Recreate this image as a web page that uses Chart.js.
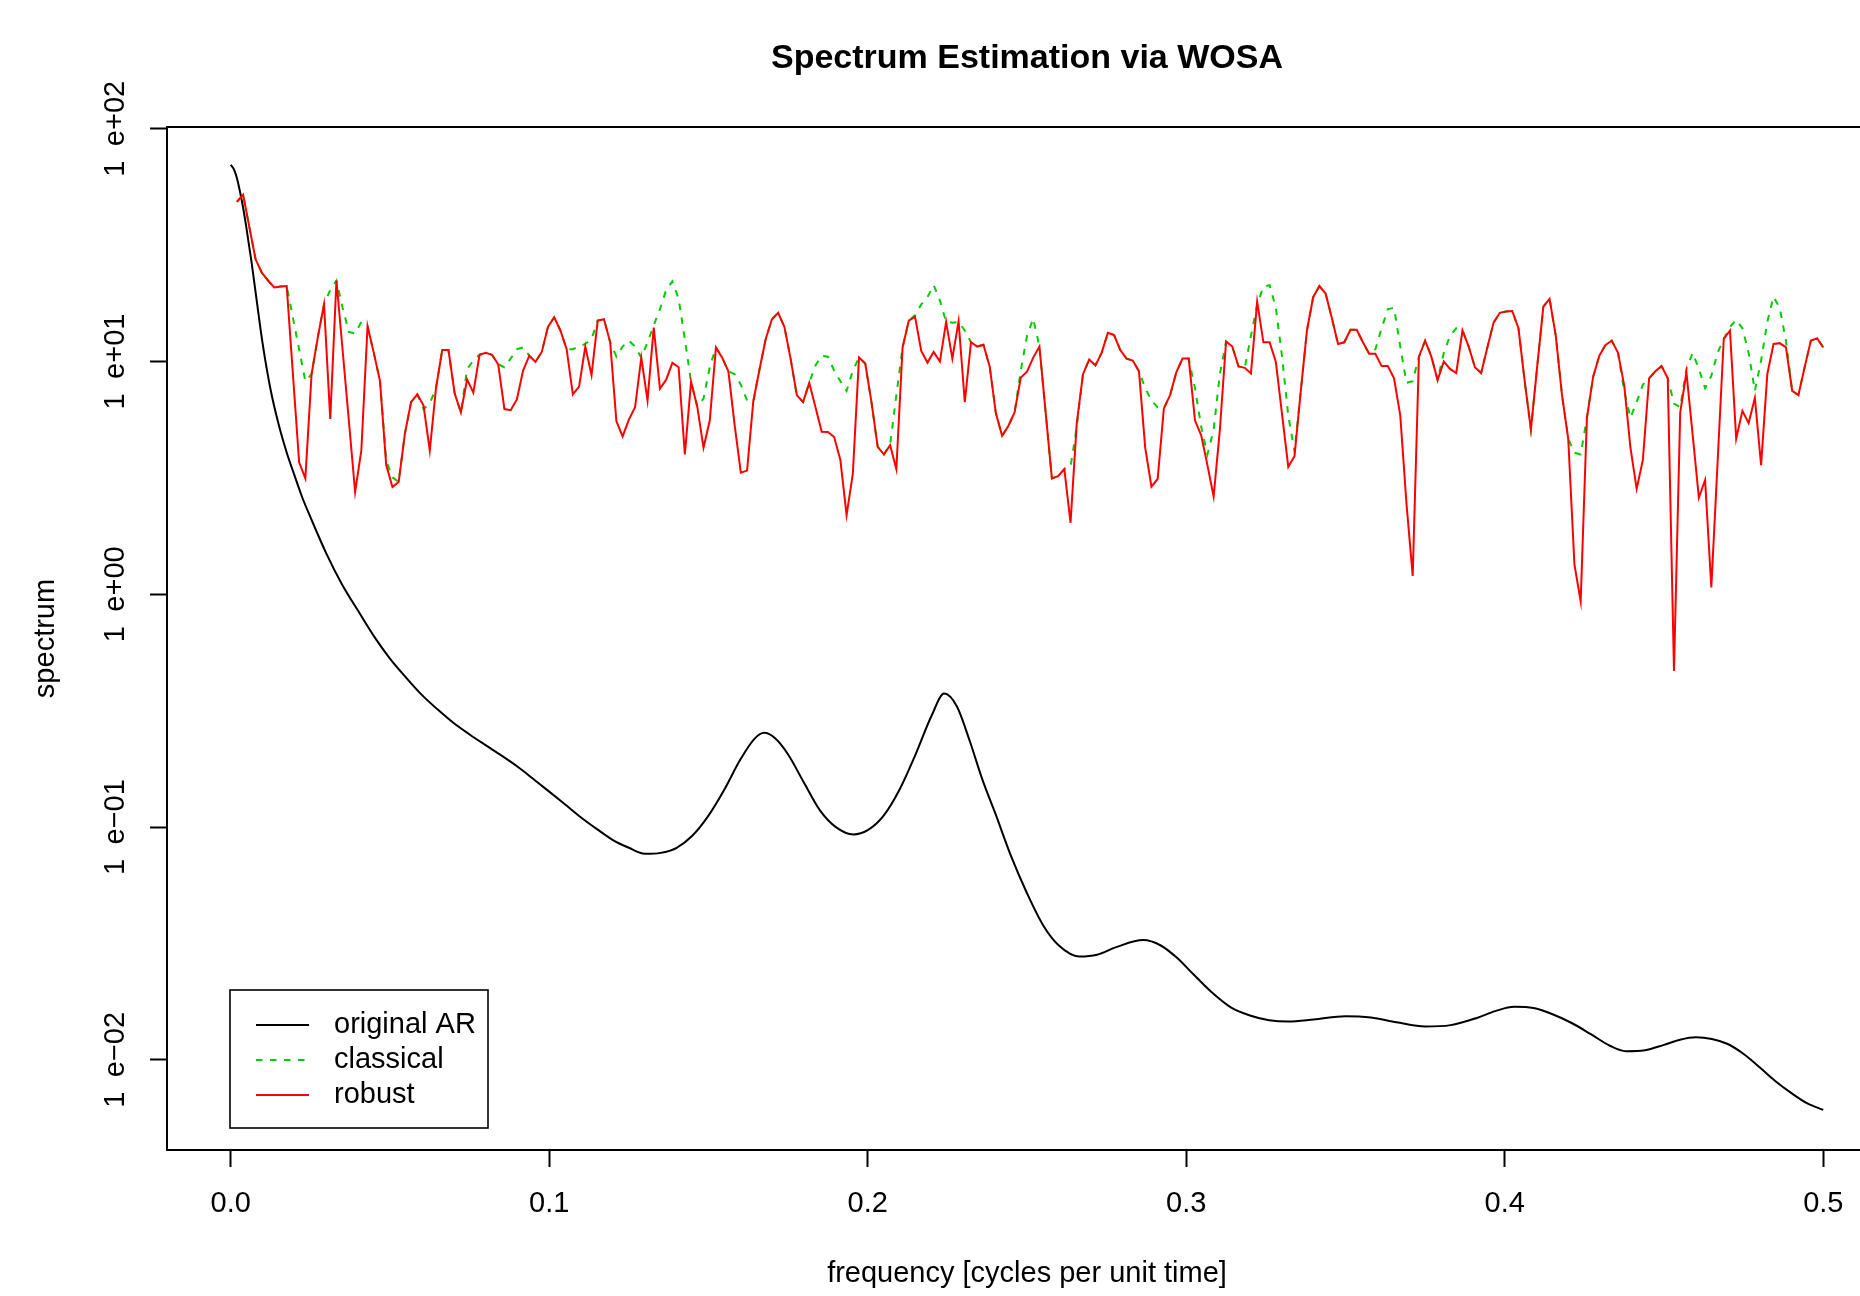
<!DOCTYPE html>
<html>
<head>
<meta charset="utf-8">
<title>Spectrum Estimation via WOSA</title>
<script src="https://cdn.jsdelivr.net/npm/chart.js@4.4.1/dist/chart.umd.min.js"></script>
<style>
  html, body { margin: 0; padding: 0; background: #fff; overflow: hidden; }
  #wrap { width: 1900px; height: 1296px; }
</style>
</head>
<body>
<div id="wrap"><canvas id="wosa" width="1900" height="1296"></canvas></div>
<script>
// WOSA estimates sit on the Fourier grid k/512, k = 1..256 (up to Nyquist)
const nFreq = 256;
const estFreqs = Array.from({ length: nFreq }, (_, i) => (i + 1) / 512);

// robust WOSA estimate (red)
const robust = [
  48.5, 52.1, 37.8, 27.5, 24.1, 22.3, 20.8, 21.0, 21.1, 8.83, 3.69, 3.15, 8.83, 12.7, 17.6, 5.67,
  22.3, 11.1, 5.54, 2.75, 4.15, 14.2, 10.9, 8.24, 3.59, 2.89, 3.04, 4.90, 6.70, 7.23, 6.47, 4.15,
  7.69, 11.2, 11.2, 7.30, 6.04, 8.38, 7.35, 10.7, 10.9, 10.7, 9.73, 6.25, 6.18, 6.88, 9.14, 10.6,
  9.97, 11.0, 14.1, 15.5, 13.6, 11.3, 7.23, 7.80, 11.6, 8.74, 15.0, 15.2, 12.1, 5.54, 4.77, 5.63,
  6.36, 10.4, 6.81, 14.0, 7.64, 8.36, 9.87, 9.46, 3.99, 8.18, 6.40, 4.27, 5.57, 11.5, 10.4, 9.08,
  5.35, 3.33, 3.40, 6.74, 9.24, 12.5, 15.2, 16.2, 14.1, 10.3, 7.18, 6.70, 8.10, 6.36, 4.99, 4.98,
  4.74, 3.78, 2.19, 3.29, 10.4, 9.80, 6.70, 4.30, 3.99, 4.37, 3.45, 11.5, 15.0, 15.6, 11.1, 9.90,
  11.0, 10.0, 14.8, 10.3, 14.9, 6.70, 12.1, 11.6, 11.8, 9.53, 5.99, 4.80, 5.29, 6.04, 8.53, 9.05,
  10.4, 11.6, 6.04, 3.15, 3.22, 3.45, 2.03, 5.44, 8.83, 10.2, 9.63, 10.9, 13.3, 13.0, 11.2, 10.3,
  10.1, 9.08, 4.27, 2.90, 3.13, 6.29, 7.18, 8.99, 10.3, 10.3, 5.59, 4.82, 3.59, 2.63, 5.08, 12.2,
  11.6, 9.53, 9.40, 8.89, 18.1, 12.1, 12.1, 9.97, 5.93, 3.53, 3.92, 7.43, 13.6, 18.9, 21.1, 19.6,
  15.4, 11.9, 12.1, 13.7, 13.7, 12.1, 10.8, 10.8, 9.56, 9.56, 8.47, 5.87, 2.45, 1.20, 10.5, 12.3,
  10.5, 8.33, 10.0, 9.30, 8.93, 13.6, 11.6, 9.46, 8.93, 11.5, 14.7, 16.2, 16.4, 16.5, 13.9, 8.24,
  5.11, 9.46, 17.2, 18.6, 12.9, 7.18, 4.66, 1.34, 0.932, 5.73, 8.59, 10.6, 11.8, 12.3, 10.9, 7.91,
  4.27, 2.84, 3.78, 8.47, 9.08, 9.56, 8.47, 0.469, 6.04, 8.99, 4.84, 2.60, 3.10, 1.07, 3.65, 12.5,
  13.6, 4.66, 6.14, 5.44, 6.98, 3.59, 8.83, 11.9, 12.0, 11.5, 7.48, 7.18, 9.46, 12.3, 12.6, 11.5
];

// classical WOSA estimate (green, dashed)
const classical = [
  48.5, 52.1, 37.8, 27.5, 24.1, 22.3, 20.8, 21.0, 21.1, 15.4, 11.3, 8.24, 8.83, 12.7, 17.6, 20.3,
  22.3, 17.0, 13.4, 13.2, 14.8, 14.2, 10.9, 8.24, 3.75, 3.18, 3.04, 4.90, 6.70, 7.23, 6.25, 6.60,
  7.69, 11.2, 11.2, 7.30, 6.04, 9.30, 10.1, 10.7, 10.9, 10.7, 9.73, 9.46, 10.3, 11.3, 11.5, 10.6,
  9.97, 11.0, 14.1, 15.5, 13.6, 11.3, 11.3, 11.6, 11.9, 12.5, 15.0, 15.2, 12.1, 10.5, 11.6, 12.3,
  11.6, 10.4, 12.1, 14.3, 16.8, 20.3, 22.1, 18.6, 12.5, 8.18, 6.40, 6.93, 9.46, 11.5, 10.4, 9.08,
  8.83, 7.96, 6.81, 6.74, 9.24, 12.5, 15.2, 16.2, 14.1, 10.3, 7.18, 6.70, 8.10, 9.63, 10.6, 10.5,
  9.14, 8.24, 7.48, 9.14, 10.4, 9.80, 6.70, 4.30, 3.99, 4.40, 7.18, 11.5, 15.0, 15.8, 17.6, 18.9,
  21.3, 18.3, 14.8, 14.7, 14.8, 13.6, 12.1, 11.6, 11.8, 9.53, 5.99, 4.80, 5.29, 6.04, 9.14, 12.9,
  15.3, 11.6, 6.04, 3.15, 3.22, 3.45, 3.53, 5.25, 8.83, 10.2, 9.63, 10.9, 13.3, 13.0, 11.2, 10.3,
  10.1, 9.08, 7.69, 6.81, 6.36, 6.29, 7.18, 8.99, 10.3, 10.3, 7.69, 5.25, 3.99, 5.08, 8.83, 12.2,
  11.6, 9.53, 9.40, 12.9, 17.6, 21.0, 21.3, 17.0, 10.5, 5.85, 4.11, 7.43, 13.6, 18.9, 21.1, 19.6,
  15.4, 11.9, 12.1, 13.7, 13.7, 12.1, 10.8, 11.3, 13.9, 16.8, 17.0, 11.6, 8.10, 8.24, 10.5, 12.3,
  10.5, 8.33, 10.9, 12.9, 13.9, 13.6, 11.6, 9.46, 8.93, 11.5, 14.7, 16.2, 16.4, 16.5, 13.9, 8.24,
  5.11, 9.46, 17.2, 18.6, 12.9, 7.18, 4.66, 4.06, 3.99, 5.73, 8.59, 10.6, 11.8, 12.3, 10.9, 7.48,
  5.73, 6.70, 7.96, 8.47, 9.08, 9.56, 8.47, 6.60, 6.36, 9.30, 10.9, 9.30, 7.69, 8.68, 10.9, 12.5,
  14.1, 15.1, 13.9, 10.9, 7.48, 10.1, 14.8, 19.0, 17.0, 12.3, 7.48, 7.18, 9.46, 12.3, 12.6, 11.5
];

// true spectrum of the AR process (black)
const arFreqs = [
  0, 0.001, 0.002, 0.003, 0.004, 0.005, 0.0065, 0.008, 0.010, 0.0125, 0.015, 0.0175, 0.020, 0.0225,
  0.025, 0.030, 0.035, 0.040, 0.045, 0.050, 0.055, 0.060, 0.065, 0.070, 0.075, 0.080, 0.085,
  0.090, 0.095, 0.100, 0.105, 0.110, 0.115, 0.120, 0.125, 0.130, 0.135, 0.140, 0.145, 0.150,
  0.155, 0.160, 0.1645, 0.1675, 0.171, 0.175, 0.180, 0.185, 0.190, 0.1955, 0.200, 0.205, 0.210,
  0.215, 0.220, 0.224, 0.228, 0.232, 0.236, 0.240, 0.245, 0.250, 0.255, 0.260, 0.2665, 0.272,
  0.278, 0.2865, 0.292, 0.297, 0.302, 0.308, 0.314, 0.320, 0.326, 0.332, 0.340, 0.350, 0.358,
  0.366, 0.375, 0.383, 0.391, 0.397, 0.403, 0.409, 0.415, 0.421, 0.427, 0.433, 0.438, 0.444,
  0.450, 0.455, 0.460, 0.465, 0.470, 0.475, 0.480, 0.485, 0.490, 0.495, 0.500
];
const arSpectrum = [
  70, 67, 61, 53, 45, 37, 27, 19, 12.0, 7.6, 5.4, 4.1, 3.25, 2.6,
  2.15, 1.5, 1.1, 0.85, 0.66, 0.53, 0.44, 0.37, 0.32, 0.28, 0.25, 0.225, 0.203,
  0.182, 0.161, 0.142, 0.125, 0.110, 0.098, 0.088, 0.0815, 0.0768, 0.0775, 0.0815, 0.092, 0.112,
  0.145, 0.195, 0.240, 0.254, 0.240, 0.205, 0.155, 0.118, 0.100, 0.093, 0.097, 0.112, 0.145,
  0.205, 0.300, 0.375, 0.330, 0.235, 0.160, 0.115, 0.075, 0.052, 0.038, 0.031, 0.0278, 0.0283,
  0.0305, 0.0327, 0.031, 0.0275, 0.0235, 0.0195, 0.0168, 0.0155, 0.0148, 0.0146, 0.0149, 0.0154, 0.0152,
  0.0145, 0.0139, 0.0141, 0.0151, 0.0162, 0.0169, 0.0167, 0.0157, 0.0144, 0.0129, 0.0115, 0.0109, 0.0110,
  0.0116, 0.0122, 0.0125, 0.0123, 0.0117, 0.0106, 0.0093, 0.0081, 0.0072, 0.0065, 0.0061
];

const xTickValues = [0, 0.1, 0.2, 0.3, 0.4, 0.5];
const xTickLabels = ['0.0', '0.1', '0.2', '0.3', '0.4', '0.5'];
const yTickValues = [0.01, 0.1, 1, 10, 100];
const yTickLabels = ['1\u2002e\u221202', '1\u2002e\u221201', '1\u2002e+00', '1\u2002e+01', '1\u2002e+02'];

const chartTitle = 'Spectrum Estimation via WOSA';
const FONT = '"Liberation Sans", Arial, Helvetica, sans-serif';

Chart.defaults.font.family = FONT;
Chart.defaults.color = '#000';

function toXY(xs, ys) {
  return xs.map((x, i) => ({ x: x, y: ys[i] }));
}

// box, title and legend the way R draws them
const rDecor = {
  id: 'rDecor',
  afterDraw(chart) {
    const ctx = chart.ctx;
    const a = chart.chartArea;
    ctx.save();
    ctx.strokeStyle = '#000';
    ctx.lineWidth = 2;
    ctx.strokeRect(a.left, a.top, a.right - a.left, a.bottom - a.top);

    ctx.fillStyle = '#000';
    ctx.font = 'bold 34px ' + FONT;
    ctx.textAlign = 'center';
    ctx.textBaseline = 'alphabetic';
    ctx.fillText(chartTitle, (a.left + a.right) / 2, 68);

    // legend in the lower left corner
    const lx = 230, ly = 990, lw = 258, lh = 138;
    ctx.lineWidth = 1.6;
    ctx.strokeRect(lx, ly, lw, lh);
    const rows = [1025, 1060, 1095];
    ctx.font = '29px ' + FONT;
    ctx.textAlign = 'left';
    ctx.textBaseline = 'middle';
    chart.data.datasets.forEach((ds, i) => {
      ctx.strokeStyle = ds.borderColor;
      ctx.lineWidth = 2;
      ctx.setLineDash(ds.borderDash || []);
      ctx.beginPath();
      ctx.moveTo(256, rows[i]);
      ctx.lineTo(309, rows[i]);
      ctx.stroke();
      ctx.setLineDash([]);
      ctx.fillText(ds.label, 334, rows[i]);
    });
    ctx.restore();
  }
};

const tickFont = { size: 29 };

new Chart(document.getElementById('wosa').getContext('2d'), {
  type: 'line',
  data: {
    datasets: [
      {
        label: 'original AR',
        data: toXY(arFreqs, arSpectrum),
        borderColor: '#000000',
        borderWidth: 2,
        pointRadius: 0,
        cubicInterpolationMode: 'monotone',
        order: 3
      },
      {
        label: 'classical',
        data: toXY(estFreqs, classical),
        borderColor: '#00cd00',
        borderWidth: 2,
        borderDash: [6.5, 7.5],
        pointRadius: 0,
        tension: 0,
        order: 2
      },
      {
        label: 'robust',
        data: toXY(estFreqs, robust),
        borderColor: '#ff0000',
        borderWidth: 2,
        pointRadius: 0,
        tension: 0,
        order: 1
      }
    ]
  },
  options: {
    responsive: false,
    animation: false,
    events: [],
    layout: { padding: { top: 127, right: 13, bottom: 0, left: 0 } },
    plugins: {
      legend: { display: false },
      title: { display: false },
      tooltip: { enabled: false }
    },
    scales: {
      x: {
        type: 'linear',
        min: -0.02,
        max: 0.52,
        afterBuildTicks: s => { s.ticks = xTickValues.map(v => ({ value: v })); },
        afterFit: s => { s.height = 146; },
        grid: { drawOnChartArea: false, tickLength: 17, tickWidth: 2, tickColor: '#000' },
        border: { display: false },
        ticks: {
          autoSkip: false,
          minRotation: 0,
          maxRotation: 0,
          padding: 20,
          font: tickFont,
          color: '#000',
          callback: (v, i) => xTickLabels[i]
        },
        title: {
          display: true,
          text: 'frequency [cycles per unit time]',
          font: { size: 29 },
          color: '#000',
          padding: { top: 0, bottom: 5 }
        }
      },
      y: {
        type: 'logarithmic',
        min: 0.0041,
        max: 101.8,
        afterBuildTicks: s => { s.ticks = yTickValues.map(v => ({ value: v })); },
        afterFit: s => { s.width = 167; },
        grid: { drawOnChartArea: false, tickLength: 17, tickWidth: 2, tickColor: '#000' },
        border: { display: false },
        ticks: {
          autoSkip: false,
          minRotation: 90,
          maxRotation: 90,
          crossAlign: 'center',
          padding: -14,
          font: tickFont,
          color: '#000',
          callback: (v, i) => yTickLabels[i]
        },
        title: {
          display: true,
          text: 'spectrum',
          font: { size: 29 },
          color: '#000',
          padding: { top: 29, bottom: 0 }
        }
      }
    }
  },
  plugins: [rDecor]
});
</script>
</body>
</html>
